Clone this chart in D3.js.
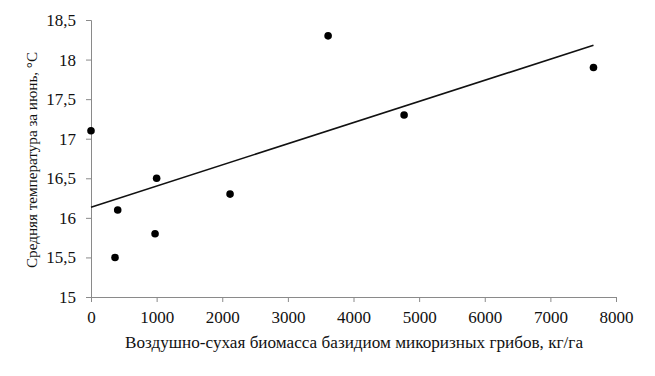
<!DOCTYPE html>
<html>
<head>
<meta charset="utf-8">
<script src="https://cdn.jsdelivr.net/npm/d3@7"></script>
<style>
  body { margin: 0; background: #fff; }
  text { font-family: "Liberation Serif", "Times New Roman", serif; }
</style>
</head>
<body>
<svg id="chart" width="655" height="376"></svg>
<script>
// biomass, kg/ha
const biomass = [0, 1000, 407, 976, 366, 2119, 3613, 4771, 7657];
// mean June temperature, °C
const temperature = [17.1, 16.5, 16.1, 15.8, 15.5, 16.3, 18.3, 17.3, 17.9];
const xTicks = [0, 1000, 2000, 3000, 4000, 5000, 6000, 7000, 8000];
const yTicks = [15, 15.5, 16, 16.5, 17, 17.5, 18, 18.5];
const xTitle = "Воздушно-сухая биомасса базидиом микоризных грибов, кг/га";
const yTitle = "Средняя температура  за июнь, °С";

const svg = d3.select("#chart");
const margin = {left: 91, right: 39, top: 20, bottom: 79};
const width = 655 - margin.left - margin.right;
const height = 376 - margin.top - margin.bottom;

const g = svg.append("g")
  .attr("transform", `translate(${margin.left},${margin.top})`);

const x = d3.scaleLinear().domain([0, 8000]).range([0, width]);
const y = d3.scaleLinear().domain([15, 18.5]).range([height, 0]);

const fmt = d => String(d).replace(".", ",");

const xAxis = g.append("g")
  .attr("transform", `translate(0,${height})`)
  .call(d3.axisBottom(x).tickValues(xTicks).tickSize(5).tickPadding(9).tickFormat(fmt));
const yAxis = g.append("g")
  .call(d3.axisLeft(y).tickValues(yTicks).tickSize(5).tickPadding(10).tickFormat(fmt));

[xAxis, yAxis].forEach(a => {
  a.attr("font-family", "'Liberation Serif', serif");
  a.select(".domain").attr("stroke", "#8a8a8a");
  a.selectAll(".tick line").attr("stroke", "#8a8a8a");
  a.selectAll(".tick text")
    .attr("fill", "#111")
    .style("font-family", "'Liberation Serif', serif")
    .style("font-size", "17px");
});

// linear trend (least squares)
const pts = biomass.map((b, i) => ({x: b, y: temperature[i]}));
const mx = d3.mean(pts, d => d.x), my = d3.mean(pts, d => d.y);
const slope = d3.sum(pts, d => (d.x - mx) * (d.y - my)) / d3.sum(pts, d => (d.x - mx) ** 2);
const intercept = my - slope * mx;
const trendX = d3.extent(biomass);

g.append("line")
  .attr("x1", x(trendX[0]))
  .attr("y1", y(intercept + slope * trendX[0]))
  .attr("x2", x(trendX[1]))
  .attr("y2", y(intercept + slope * trendX[1]))
  .attr("stroke", "#111")
  .attr("stroke-width", 1.6);

g.selectAll("circle.dot")
  .data(pts)
  .enter().append("circle")
  .attr("class", "dot")
  .attr("cx", d => x(d.x))
  .attr("cy", d => y(d.y))
  .attr("r", 3.8)
  .attr("fill", "#000");

svg.append("text")
  .attr("x", 354)
  .attr("y", 348)
  .attr("text-anchor", "middle")
  .attr("fill", "#111")
  .attr("textLength", 458)
  .attr("lengthAdjust", "spacingAndGlyphs")
  .style("font-size", "16.5px")
  .text(xTitle);

svg.append("text")
  .attr("transform", "translate(37,160) rotate(-90)")
  .attr("text-anchor", "middle")
  .attr("fill", "#111")
  .attr("textLength", 216)
  .attr("lengthAdjust", "spacingAndGlyphs")
  .style("font-size", "15.5px")
  .text(yTitle);
</script>
</body>
</html>
